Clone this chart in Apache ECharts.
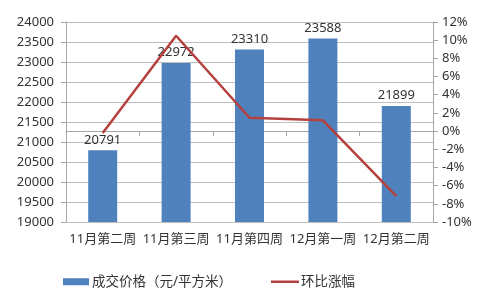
<!DOCTYPE html>
<html><head><meta charset="utf-8">
<script src="https://cdn.jsdelivr.net/npm/echarts@6/dist/echarts.min.js"></script>
<style>html,body{margin:0;padding:0;background:#fff}#c{width:484px;height:297px}</style>
</head><body><div id="c"></div>
<script>
const categories = ['11月第二周','11月第三周','11月第四周','12月第一周','12月第二周'];
const priceValues = [20791, 22972, 23310, 23588, 21899];
const changeValues = [-0.2, 10.49, 1.47, 1.19, -7.16];
const priceName = '成交价格（元/平方米）';
const changeName = '环比涨幅';

const chart = echarts.init(document.getElementById('c'));
const font = '"Noto Sans", "Noto Sans CJK SC", sans-serif';
const lineColor = '#b5413f';
chart.setOption({
  animation: false,
  textStyle: {fontFamily: font},
  grid: {left: 66, right: 51, top: 22, bottom: 75},
  legend: [{
    top: 270, left: 58, itemWidth: 26, itemHeight: 7, itemGap: 3,
    textStyle: {fontSize: 13.5, color: '#333', fontFamily: font, padding: [0,0,0,-2]},
    data: [{name: priceName, icon: 'rect'}]
  }, {
    top: 270, left: 266, itemWidth: 28, itemHeight: 7,
    textStyle: {fontSize: 13.5, color: '#333', fontFamily: font, padding: [0,0,0,-3]},
    data: [{name: changeName, icon: 'path://M0,0 L28,0 L28,2.5 L0,2.5 Z'}]
  }],
  xAxis: {
    type: 'category', data: categories,
    axisLine: {lineStyle: {color: '#a6a6a6'}},
    axisTick: {show: true, alignWithLabel: false, length: 5, lineStyle: {color: '#a6a6a6'}},
    axisLabel: {fontSize: 13, color: '#333', margin: 11, interval: 0}
  },
  yAxis: [{
    type: 'value', min: 19000, max: 24000, interval: 500,
    axisLine: {show: true, lineStyle: {color: '#a6a6a6'}},
    axisTick: {show: true, length: 5, lineStyle: {color: '#a6a6a6'}},
    splitLine: {lineStyle: {color: '#bfbfbf'}},
    axisLabel: {fontSize: 13, color: '#333', margin: 12, formatter: v => String(v)}
  }, {
    type: 'value', min: -10, max: 12, interval: 2,
    axisLine: {show: true, lineStyle: {color: '#a6a6a6'}},
    axisTick: {show: true, length: 5, lineStyle: {color: '#a6a6a6'}},
    splitLine: {show: false},
    axisLabel: {fontSize: 13, color: '#333', margin: 9, formatter: v => v + '%'}
  }],
  series: [{
    name: priceName, type: 'bar', data: priceValues, barWidth: 29,
    itemStyle: {color: '#4f81bd'},
    label: {show: true, position: 'top', fontSize: 13, color: '#333', distance: 4}
  }, {
    name: changeName, type: 'line', yAxisIndex: 1, data: changeValues,
    symbol: 'none', lineStyle: {color: lineColor, width: 2.5},
    itemStyle: {color: lineColor}, z: 3
  }]
});
</script></body></html>
